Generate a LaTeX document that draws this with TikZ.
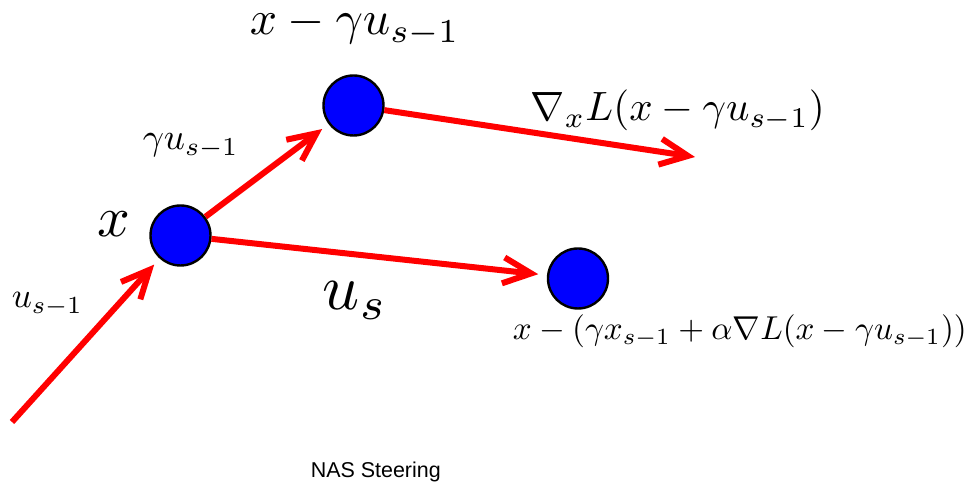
\documentclass[tikz,border=0pt]{standalone}
\usepackage{fontspec}
\usepackage{graphicx}
\newfontfamily\nasfont{Liberation Sans}
\usetikzlibrary{arrows.meta}
\tikzset{
  dot/.style={circle, fill={rgb,255:red,0;green,0;blue,255}, draw=black, line width=0.6pt, minimum size=15pt, inner sep=0pt},
  redarrow/.style={draw={rgb,255:red,255;green,0;blue,0}, line width=1.5pt, -{Straight Barb[length=7pt,width=6.5pt]}},
  lbl/.style={inner sep=0pt, anchor=base west}
}
\newcommand{\fitw}[2]{\resizebox{#1}{!}{#2}}
\begin{document}
\begin{tikzpicture}[x=0.25pt,y=-0.25pt]
\useasboundingbox (0,0) rectangle (966,489);
\node[dot] (A) at (180.5,235.5) {};
\node[dot] (B) at (353.5,105.5) {};
\node[dot] (C) at (578,278.5) {};
\coordinate (s0) at (12,422);
\coordinate (g) at (695,157);
\draw[redarrow, shorten >=2pt] (s0) -- (A);
\draw[redarrow, shorten >=2pt] (A) -- (B);
\draw[redarrow, shorten >=2.2pt] (A) -- (C);
\draw[redarrow] (B) -- (g);
\node[lbl] (ltop) at (249,35) {\fitw{52.5pt}{$x-\gamma u_{s-1}$}};
\node[lbl] (lgrad) at (530,121) {\fitw{73.5pt}{$\nabla_x L(x-\gamma u_{s-1})$}};
\node[lbl] (lgu) at (142,150) {\fitw{24pt}{$\gamma u_{s-1}$}};
\node[lbl] (lx) at (97,237) {\fitw{8.2pt}{$x$}};
\node[lbl] (lus1) at (11,308) {\fitw{17.8pt}{$u_{s-1}$}};
\node[lbl] (lus) at (322,310) {\fitw{16.2pt}{$u_s$}};
\node[lbl] (lform) at (512,340) {\fitw{113.5pt}{$x-(\gamma x_{s-1}+\alpha\nabla L(x-\gamma u_{s-1}))$}};
\node[lbl] (lnas) at (310,478) {\fitw{32.5pt}{\nasfont NAS Steering}};
\end{tikzpicture}
\end{document}
